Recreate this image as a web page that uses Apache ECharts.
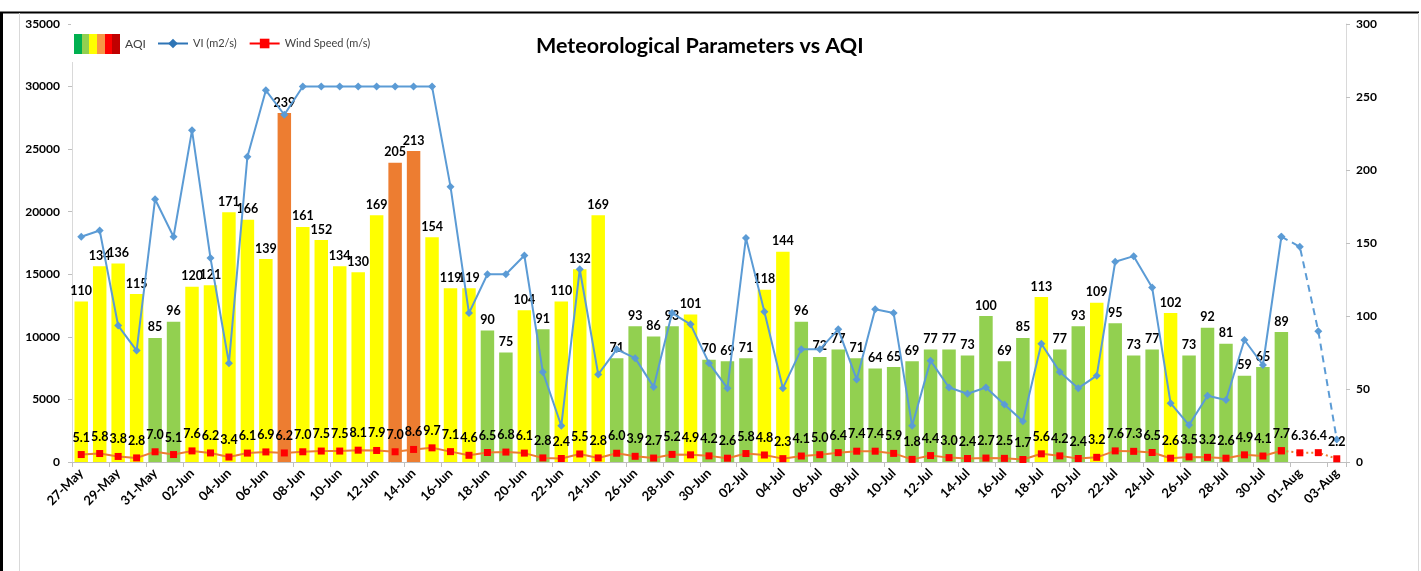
<!DOCTYPE html>
<html><head><meta charset="utf-8">
<script src="https://cdn.jsdelivr.net/npm/echarts@6/dist/echarts.min.js"></script>
<style>html,body{margin:0;padding:0;background:#fff}#c{width:1421px;height:571px}</style>
</head><body><div id="c"></div>
<script>
const dates=['27-May','28-May','29-May','30-May','31-May',
'01-Jun','02-Jun','03-Jun','04-Jun','05-Jun','06-Jun','07-Jun','08-Jun','09-Jun','10-Jun',
'11-Jun','12-Jun','13-Jun','14-Jun','15-Jun','16-Jun','17-Jun','18-Jun','19-Jun','20-Jun',
'21-Jun','22-Jun','23-Jun','24-Jun','25-Jun','26-Jun','27-Jun','28-Jun','29-Jun','30-Jun',
'01-Jul','02-Jul','03-Jul','04-Jul','05-Jul','06-Jul','07-Jul','08-Jul','09-Jul','10-Jul',
'11-Jul','12-Jul','13-Jul','14-Jul','15-Jul','16-Jul','17-Jul','18-Jul','19-Jul','20-Jul',
'21-Jul','22-Jul','23-Jul','24-Jul','25-Jul','26-Jul','27-Jul','28-Jul','29-Jul','30-Jul','31-Jul',
'01-Aug','02-Aug','03-Aug'];
const aqi=[110,134,136,115,85,96,120,121,171,166,139,239,161,152,134,130,169,205,213,154,
119,119,90,75,104,91,110,132,169,71,93,86,93,101,70,69,71,118,144,96,
72,77,71,64,65,69,77,77,73,100,69,85,113,77,93,109,95,73,77,102,
73,92,81,59,65,89,null,null,null];
const vi=[18000,18500,10900,8900,21000,18000,26500,16300,7900,24400,29700,27750,
30000,30000,30000,30000,30000,30000,30000,30000,22000,11900,15000,15000,16500,7200,2900,
15400,7000,9000,8300,6000,11900,11000,7900,5900,17900,12000,5900,9000,9000,10600,6600,
12200,11900,2900,8100,5950,5450,5950,4600,3250,9450,7200,5900,6900,16000,16450,13950,
4700,2950,5300,4950,9750,7750,18000,17200,10450,1800];
const wind=[5.1,5.8,3.8,2.8,7.0,5.1,7.6,6.2,3.4,6.1,6.9,6.2,7.0,7.5,7.5,8.1,7.9,7.0,8.6,9.7,
7.1,4.6,6.5,6.8,6.1,2.8,2.4,5.5,2.8,6.0,3.9,2.7,5.2,4.9,4.2,2.6,5.8,4.8,2.3,4.1,
5.0,6.4,7.4,7.4,5.9,1.8,4.4,3.0,2.4,2.7,2.5,1.7,5.6,4.2,2.4,3.2,7.6,7.3,6.5,2.6,
3.5,3.2,2.6,4.9,4.1,7.7,6.3,6.4,2.2];
const lastObserved=65; // 31-Jul; later points are drawn dashed/dotted
const leftTicks={min:0,max:35000,interval:5000};
const rightTicks={min:0,max:300,interval:50};

const FONT='Lato, "Liberation Sans", sans-serif';
function aqiColor(v){ if(v>200) return '#ED7D31'; if(v>100) return '#FFFF00'; return '#92D050'; }

// legend icon for AQI: colour scale stripe
const cv=document.createElement('canvas'); cv.width=46; cv.height=20;
const cx=cv.getContext('2d');
['#00B050','#92D050','#FFFF00','#F79646','#FF0000','#C00000'].forEach((c,i)=>{cx.fillStyle=c;cx.fillRect(Math.round(i*46/6),0,Math.ceil(46/6)+1,20);});
const aqiIcon='image://'+cv.toDataURL();

const chart=echarts.init(document.getElementById('c'),null,{renderer:'canvas'});
const viSolid=vi.map((v,i)=>i<=lastObserved?v:null);
const viDash=vi.map((v,i)=>i>=lastObserved?v:null);
const windSolid=wind.map((v,i)=>i<=lastObserved?v:null);
const windDot=wind.map((v,i)=>i>=lastObserved?{value:v,label:{show:i>lastObserved}}:null);

const windLabel={show:true,position:'top',distance:7,color:'#000',fontFamily:FONT,fontWeight:'bold',fontSize:12.5,formatter:p=>Number(p.value).toFixed(1)};

chart.setOption({
  backgroundColor:'#fff',
  animation:false,
  textStyle:{fontFamily:FONT},
  title:{text:'Meteorological Parameters vs AQI',left:531,top:30,
    textStyle:{fontFamily:FONT,fontSize:21.5,fontWeight:'bold',color:'#000'}},
  legend:[
    {data:[{name:'AQI',icon:aqiIcon}],left:71,top:23,padding:[11,4,8,3],itemWidth:46,itemHeight:20,
     backgroundColor:'#fff',textStyle:{fontFamily:FONT,fontSize:12,color:'#404040'}},
    {data:[{name:'VI (m2/s)',itemStyle:{color:'#2E75B6'},lineStyle:{color:'#2E75B6',width:2}},
           {name:'Wind Speed (m/s)',itemStyle:{color:'#FF0000'},lineStyle:{color:'#FF0000',width:2}}],
     left:150,top:23,padding:[15,8,11,7],itemWidth:30,itemHeight:12,itemGap:12,backgroundColor:'#fff',
     textStyle:{fontFamily:FONT,fontSize:11,color:'#404040'}}
  ],
  grid:{left:72,top:24,width:1274,height:438,containLabel:false},
  xAxis:{type:'category',data:dates,boundaryGap:true,
    axisLine:{show:true,lineStyle:{color:'#BFBFBF',width:1}},
    axisTick:{show:true,interval:1,alignWithLabel:false,length:5,lineStyle:{color:'#BFBFBF'}},
    axisLabel:{interval:1,rotate:45,margin:9,color:'#000',fontFamily:FONT,fontWeight:'bold',fontSize:13},
    splitLine:{show:false}},
  yAxis:[
    {type:'value',min:leftTicks.min,max:leftTicks.max,interval:leftTicks.interval,position:'left',
     axisLine:{show:true,lineStyle:{color:'#D9D9D9'}},
     axisTick:{show:true,length:4,lineStyle:{color:'#BFBFBF'}},
     axisLabel:{color:'#000',fontFamily:FONT,fontWeight:'bold',fontSize:12,margin:12,formatter:v=>String(v)},
     splitLine:{show:false}},
    {type:'value',min:rightTicks.min,max:rightTicks.max,interval:rightTicks.interval,position:'right',
     axisLine:{show:true,lineStyle:{color:'#D9D9D9'}},
     axisTick:{show:true,length:4,lineStyle:{color:'#BFBFBF'}},
     axisLabel:{color:'#000',fontFamily:FONT,fontWeight:'bold',fontSize:12,margin:10,formatter:v=>String(v)},
     splitLine:{show:false}}
  ],
  series:[
    {name:'AQI',type:'bar',yAxisIndex:1,barWidth:'73%',
     data:aqi.map(v=>v==null?null:{value:v,itemStyle:{color:aqiColor(v)}}),
     itemStyle:{color:'#92D050'},
     label:{show:true,position:'top',distance:4,color:'#000',fontFamily:FONT,fontWeight:'bold',fontSize:12.5},
     z:1},
    {name:'VI (m2/s)',type:'line',yAxisIndex:0,data:viSolid,symbol:'diamond',symbolSize:8,
     itemStyle:{color:'#5B9BD5'},lineStyle:{color:'#5B9BD5',width:2},connectNulls:false,z:3},
    {name:'VI forecast',type:'line',yAxisIndex:0,data:viDash,symbol:'diamond',symbolSize:8,
     itemStyle:{color:'#5B9BD5'},lineStyle:{color:'#5B9BD5',width:2,type:[7,5]},connectNulls:false,z:3},
    {name:'Wind Speed (m/s)',type:'line',yAxisIndex:1,data:windSolid,symbol:'rect',symbolSize:7,
     itemStyle:{color:'#FF0000'},lineStyle:{color:'#ED7D31',width:2},label:windLabel,connectNulls:false,z:4},
    {name:'Wind forecast',type:'line',yAxisIndex:1,data:windDot,symbol:'rect',symbolSize:7,
     itemStyle:{color:'#FF0000'},lineStyle:{color:'#ED7D31',width:2,type:[2,3]},label:windLabel,connectNulls:false,z:4}
  ],
  graphic:[
    {type:'line',shape:{x1:0,y1:12.5,x2:1419,y2:12.5},style:{stroke:'#000',lineWidth:2},silent:true},
    {type:'line',shape:{x1:1.5,y1:12,x2:1.5,y2:571},style:{stroke:'#000',lineWidth:3},silent:true},
    {type:'line',shape:{x1:19.5,y1:13,x2:19.5,y2:571},style:{stroke:'#D9D9D9',lineWidth:1},silent:true},
    {type:'line',shape:{x1:1418.5,y1:13,x2:1418.5,y2:571},style:{stroke:'#D9D9D9',lineWidth:1},silent:true}
  ]
});
</script>
</body></html>
